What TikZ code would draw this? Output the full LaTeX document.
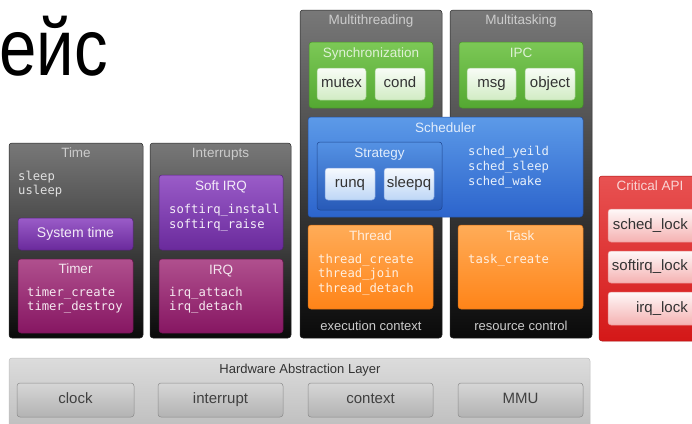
\documentclass[tikz,border=0pt]{standalone}
\usepackage{fontspec}
\setmainfont{Liberation Sans}
\setmonofont{DejaVu Sans Mono}

\definecolor{panelTop}{HTML}{787878}
\definecolor{panelBot}{HTML}{0A0A0A}
\definecolor{purTop}{HTML}{9A5CC8}
\definecolor{purBot}{HTML}{6A2A9C}
\definecolor{magTop}{HTML}{B0508E}
\definecolor{magBot}{HTML}{861662}
\definecolor{grnTop}{HTML}{7CC856}
\definecolor{grnBot}{HTML}{54A832}
\definecolor{bluTop}{HTML}{5C9AE8}
\definecolor{bluBot}{HTML}{2C64CC}
\definecolor{oraTop}{HTML}{FFAC58}
\definecolor{oraBot}{HTML}{FF8418}
\definecolor{redTop}{HTML}{E85252}
\definecolor{redBot}{HTML}{D41818}
\definecolor{halTop}{HTML}{DCDCDC}
\definecolor{halBot}{HTML}{BDBDBD}

% box from corner (x1,y1) to (x2,y2), in pixels
\newcommand{\panel}[6]{%
  \node[#2, minimum width={#5-#3}, minimum height={#6-#4}] (#1)
    at ({(#3+#5)/2},{(#4+#6)/2}) {};}

\tikzset{
  box/.style={rounded corners=3pt, inner sep=0pt, outer sep=0pt, line width=0.5pt},
  panel/.style={box, draw=black!85, top color=panelTop, bottom color=panelBot},
  purple box/.style={box, draw=purBot!80!black, top color=purTop, bottom color=purBot},
  magenta box/.style={box, draw=magBot!80!black, top color=magTop, bottom color=magBot},
  green box/.style={box, draw=grnBot!85!black, top color=grnTop, bottom color=grnBot},
  blue box/.style={box, draw=bluBot!80!black, top color=bluTop, bottom color=bluBot},
  strategy box/.style={box, draw=bluBot!70!black, top color=bluTop!85!bluBot, bottom color=bluBot!90!black},
  orange box/.style={box, draw=oraBot!85!black, top color=oraTop, bottom color=oraBot},
  red box/.style={box, draw=redBot!80!black, top color=redTop, bottom color=redBot},
  hal box/.style={box, draw=black!25, top color=halTop, bottom color=halBot},
  grn btn/.style={box, draw=grnBot!60, top color=white!95!grnTop, bottom color=white!65!grnTop},
  blu btn/.style={box, draw=bluBot!60, top color=white!95!bluTop, bottom color=white!60!bluTop},
  red btn/.style={box, draw=redBot!50, top color=white!96!redTop, bottom color=white!55!redTop},
  hal btn/.style={box, draw=black!45, top color=black!16, bottom color=black!30},
  title/.style={anchor=base, inner sep=0pt, font=\fontsize{13.5}{16}\selectfont},
  btn/.style={inner sep=0pt, text height=10.5pt, text depth=3pt, text=black!80, font=\fontsize{15}{18}\selectfont},
  api/.style={anchor=base west, inner sep=0pt, font=\fontsize{12.2}{14}\selectfont\ttfamily},
}

\begin{document}
\begin{tikzpicture}[x=1pt,y=-1pt]
\useasboundingbox (0,0) rectangle (692,423);
\clip (0,0) rectangle (692,423);

% heading
\node[anchor=base east, inner sep=0pt, font=\fontsize{80}{90}\selectfont] (heading) at (108,75) {\scalebox{0.84}[1]{ейс}};

% Time
\panel{time}{panel}{9}{143}{143}{338}
\node[title, text=black!20] (time-t) at (76,157) {Time};
\foreach \t [count=\i] in {sleep,usleep}
  \node[api, text=black!12] (time-\i) at (18,{166+14*\i}) {\t};
\panel{systime}{purple box}{18}{218}{133}{250}
\node[btn, text=white!88!purTop, font=\fontsize{14}{16}\selectfont] (systime-t) at (systime) {System time};
\panel{timer}{magenta box}{18}{259}{133}{333}
\node[title, text=white!85!magTop] (timer-t) at (75.5,273) {Timer};
\foreach \t [count=\i] in {timer\_create,timer\_destroy}
  \node[api, text=white!88!magTop] (timer-\i) at (27,{282+14*\i}) {\t};

% Interrupts
\panel{intr}{panel}{150}{143}{291}{338}
\node[title, text=black!20] (intr-t) at (220.5,157) {Interrupts};
\panel{softirq}{purple box}{159}{175}{283}{250}
\node[title, text=white!88!purTop] (softirq-t) at (221,190) {Soft IRQ};
\foreach \t [count=\i] in {softirq\_install,softirq\_raise}
  \node[api, text=white!90!purTop] (softirq-\i) at (169,{198+15*\i}) {\t};
\panel{irq}{magenta box}{159}{259}{283}{333}
\node[title, text=white!85!magTop] (irq-t) at (221,274) {IRQ};
\foreach \t [count=\i] in {irq\_attach,irq\_detach}
  \node[api, text=white!88!magTop] (irq-\i) at (169,{282+14*\i}) {\t};

% Multithreading
\panel{mthread}{panel}{300}{10}{442}{338}
\node[title, text=black!20] (mthread-t) at (371,24) {Multithreading};
\panel{sync}{green box}{309}{42}{433}{108}
\node[title, text=white!75!grnTop] (sync-t) at (371,57) {Synchronization};
\panel{mutex}{grn btn}{317}{68}{366}{100}
\node[btn] (mutex-t) at (mutex) {mutex};
\panel{cond}{grn btn}{375}{68}{425}{100}
\node[btn] (cond-t) at (cond) {cond};

% Multitasking
\panel{mtask}{panel}{450}{10}{592}{338}
\node[title, text=black!20] (mtask-t) at (521,24) {Multitasking};
\panel{ipc}{green box}{459}{42}{583}{108}
\node[title, text=white!75!grnTop] (ipc-t) at (521,57) {IPC};
\panel{msg}{grn btn}{467}{68}{516}{100}
\node[btn] (msg-t) at (msg) {msg};
\panel{object}{grn btn}{525}{68}{575}{100}
\node[btn] (object-t) at (object) {object};

% Scheduler
\panel{sched}{blue box}{308}{117}{583}{217}
\node[title, text=white!82!bluTop] (sched-t) at (445.5,132) {Scheduler};
\panel{strategy}{strategy box}{317}{142}{442}{210}
\node[title, text=white!82!bluTop] (strategy-t) at (379.5,157) {Strategy};
\panel{runq}{blu btn}{325}{168}{375}{200}
\node[btn] (runq-t) at (runq) {runq};
\panel{sleepq}{blu btn}{384}{168}{434}{200}
\node[btn] (sleepq-t) at (sleepq) {sleepq};
\foreach \t [count=\i] in {sched\_yeild,sched\_sleep,sched\_wake}
  \node[api, text=white!85!bluTop] (sched-\i) at (468,{140+15*\i}) {\t};

% Thread / Task
\panel{thread}{orange box}{308}{225}{433}{309}
\node[title, text=white!80!oraTop] (thread-t) at (370.5,240) {Thread};
\foreach \t [count=\i] in {thread\_create,thread\_join,thread\_detach}
  \node[api, text=white!82!oraTop] (thread-\i) at (318,{248.5+14.5*\i}) {\t};
\panel{task}{orange box}{458}{225}{583}{309}
\node[title, text=white!80!oraTop] (task-t) at (520.5,240) {Task};
\node[api, text=white!82!oraTop] (task-1) at (468,263) {task\_create};
\node[title, text=black!20, font=\fontsize{13}{15}\selectfont] (exec-t) at (371,330) {execution context};
\node[title, text=black!20, font=\fontsize{13}{15}\selectfont] (res-t) at (521,330) {resource control};

% Critical API
\panel{crit}{red box}{599}{176}{704}{341}
\node[title, text=white!75!redTop] (crit-t) at (650,190) {Critical API};
\foreach \n/\t/\ya/\yb in {schedlock/sched\_lock/209/242, softlock/softirq\_lock/251/283, irqlock/irq\_lock/292/325} {
  \panel{\n}{red btn}{608}{\ya}{702}{\yb}
  \node[btn, anchor=east] (\n-t) at (688,{(\ya+\yb)/2}) {\t};
}

% Hardware Abstraction Layer
\panel{hal}{hal box}{9}{358}{590}{432}
\node[title, text=black!80, font=\fontsize{13}{15}\selectfont] (hal-t) at (300,373) {Hardware Abstraction Layer};
\foreach \n/\t/\xa/\xb in {clock/clock/17/134, irqhw/interrupt/158/283, ctx/context/308/433, mmu/MMU/458/583} {
  \panel{\n}{hal btn}{\xa}{383}{\xb}{417}
  \node[btn, text=black!75] (\n-t) at (\n) {\t};
}
\end{tikzpicture}
\end{document}
